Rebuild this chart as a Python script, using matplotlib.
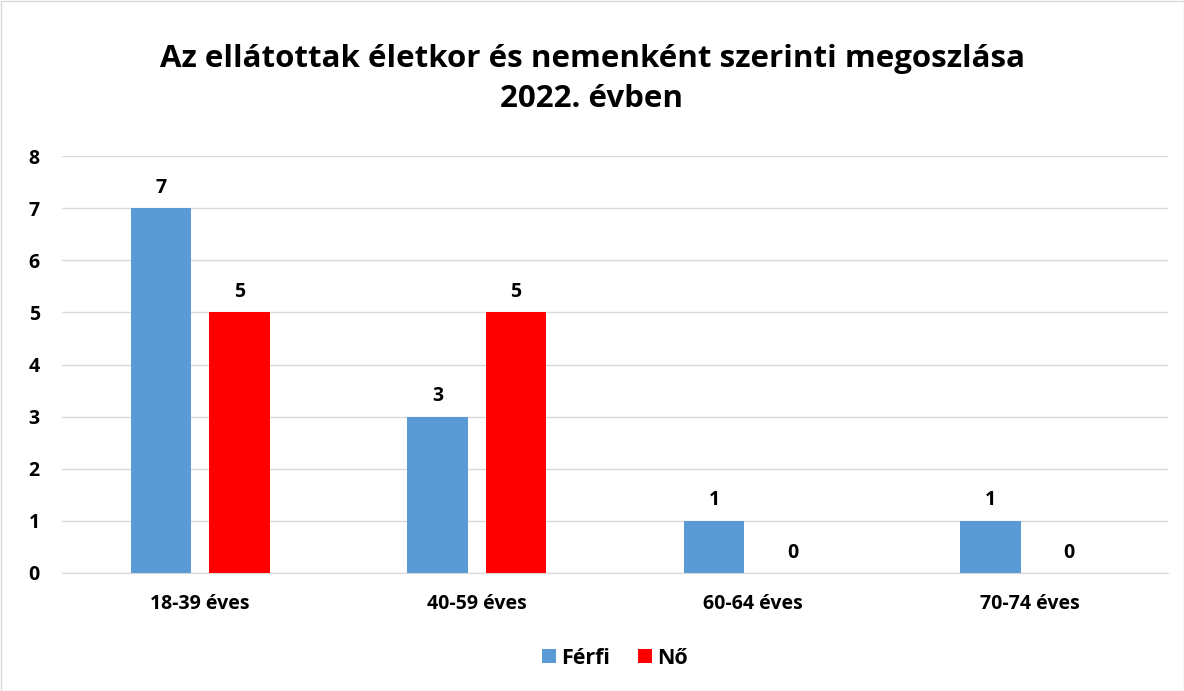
import matplotlib
matplotlib.use("Agg")
import matplotlib.pyplot as plt
import numpy as np
from matplotlib.patches import Rectangle

categories = ["18-39 éves", "40-59 éves", "60-64 éves", "70-74 éves"]
ferfi = [7, 3, 1, 1]
no = [5, 5, 0, 0]
series_names = ["Férfi", "Nő"]
colors = ["#5B9BD5", "#FF0000"]
title = "Az ellátottak életkor és nemenként szerinti megoszlása\n2022. évben"

plt.rcParams['font.family'] = ['Open Sans', 'DejaVu Sans']
FS = 14

fig = plt.figure(figsize=(11.84, 6.91), dpi=100)
ax = fig.add_axes([62/1184, 118/691, 1106/1184, (573-156)/691])

x = np.arange(len(categories))
w = 0.22
off = 0.142
b1 = ax.bar(x - off, ferfi, w, color=colors[0], label=series_names[0], zorder=3)
b2 = ax.bar(x + off, no, w, color=colors[1], label=series_names[1], zorder=3)

for bars, vals in ((b1, ferfi), (b2, no)):
    for r, v in zip(bars, vals):
        ax.text(r.get_x() + r.get_width()/2, v + 0.2, str(v), ha='center', va='bottom',
                fontsize=FS, fontweight='bold')

ax.set_xlim(-0.5, 3.5)
ax.set_ylim(0, 8)
ax.set_yticks(range(0, 9))
ax.set_xticks(x)
ax.set_xticklabels(categories, fontsize=FS, fontweight='bold')
for t in ax.get_yticklabels():
    t.set_fontsize(FS)
    t.set_fontweight('bold')
ax.tick_params(axis='x', length=0, pad=15)
ax.tick_params(axis='y', length=0, pad=16)
ax.grid(axis='y', color='#D9D9D9', linewidth=1, zorder=0)
for s in ['top', 'right', 'left']:
    ax.spines[s].set_visible(False)
ax.spines['bottom'].set_color('#D9D9D9')

fig.text(0.5, 1 - 79/691, title, ha='center', va='center', fontsize=22.5, fontweight='bold',
         linespacing=1.45)

fig.legend(loc='center', bbox_to_anchor=(615/1184, (691-658)/691), ncol=2,
           frameon=False, prop={'weight': 'bold', 'size': 15.5},
           handlelength=0.65, handleheight=0.65, handletextpad=0.25, columnspacing=1.3)

fig.patches.append(Rectangle((0.5/1184, 0.5/691), 1 - 1/1184, 1 - 1/691, transform=fig.transFigure,
                             fill=False, edgecolor='#D9D9D9', linewidth=1))

fig.savefig("out.png", dpi=100)
